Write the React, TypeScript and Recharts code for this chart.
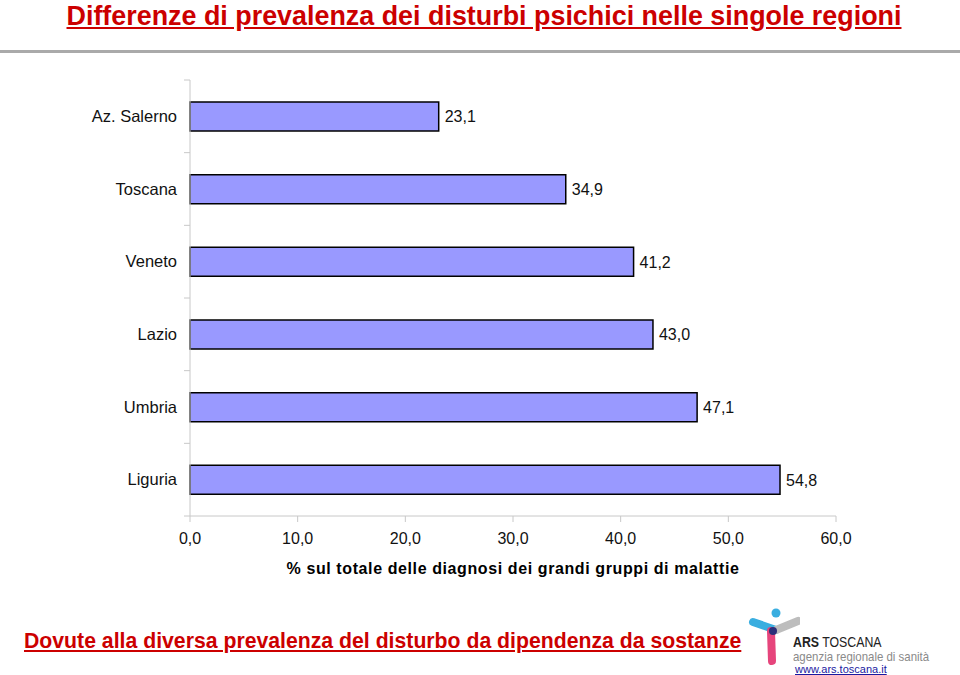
import React from "react";
import { BarChart, Bar, XAxis, YAxis, LabelList } from "recharts";

const categories = ["Az. Salerno", "Toscana", "Veneto", "Lazio", "Umbria", "Liguria"];
const values = [23.1, 34.9, 41.2, 43.0, 47.1, 54.8];
const xTicks = [0, 10, 20, 30, 40, 50, 60];

const title = "Differenze di prevalenza dei disturbi psichici nelle singole regioni";
const xTitle = "% sul totale delle diagnosi dei grandi gruppi di malattie";
const footer = "Dovute alla diversa prevalenza del disturbo da dipendenza da sostanze";

const data = categories.map((name, i) => ({ name, value: values[i] }));

const fmt = (v: any) => Number(v).toFixed(1).replace(".", ",");

const AXIS = "#c8c8c8";
const FONT = "'Liberation Sans', Arial, sans-serif";

const YTick = (props: any) => {
  const { x, y, payload, index, visibleTicksCount } = props;
  const off = payload.offset || 0;
  const ax = x + 8;
  return (
    <g>
      <line x1={ax - 6} x2={ax} y1={y - off} y2={y - off} stroke={AXIS} />
      {index === visibleTicksCount - 1 && (
        <line x1={ax - 6} x2={ax} y1={y + off} y2={y + off} stroke={AXIS} />
      )}
      <text x={x - 5} y={y} dy="0.35em" textAnchor="end" fontSize={16.5} fill="#111" fontFamily={FONT}>
        {payload.value}
      </text>
    </g>
  );
};

export default function App() {
  return (
    <div style={{ position: "absolute", left: 0, top: 0, width: 960, height: 675, background: "#fff", overflow: "hidden" }}>
      <div
        style={{
          position: "absolute",
          left: 0,
          width: 968,
          top: 0,
          textAlign: "center",
          fontFamily: FONT,
          fontWeight: "bold",
          fontSize: 28,
          lineHeight: "32px",
          color: "#cc0000",
          textDecoration: "underline",
          whiteSpace: "nowrap",
          transform: "scaleX(0.96)",
        }}
      >
        {title}
      </div>
      <div style={{ position: "absolute", left: 0, top: 50, width: 960, height: 3, background: "#aaaaaa" }} />
      <div style={{ position: "absolute", left: 0, top: 0 }}>
        <BarChart
          width={960}
          height={675}
          data={data}
          layout="vertical"
          margin={{ top: 80, right: 124, bottom: 119, left: 0 }}
        >
          <XAxis
            type="number"
            domain={[0, 60]}
            ticks={xTicks}
            tickFormatter={fmt}
            height={40}
            stroke={AXIS}
            tickSize={6}
            tickMargin={11}
            tick={{ fill: "#111", fontSize: 16, fontFamily: FONT }}
            interval={0}
          />
          <YAxis
            type="category"
            dataKey="name"
            width={190}
            stroke={AXIS}
            tickLine={false}
            tick={<YTick />}
            interval={0}
          />
          <Bar dataKey="value" fill="#9999ff" stroke="#000" strokeWidth={1.5} barSize={29} isAnimationActive={false}>
            <LabelList
              dataKey="value"
              position="right"
              offset={6}
              formatter={fmt}
              style={{ fill: "#111", fontSize: 16, fontFamily: FONT }}
            />
          </Bar>
        </BarChart>
      </div>
      <div
        style={{
          position: "absolute",
          left: 283,
          width: 460,
          top: 560,
          textAlign: "center",
          fontFamily: FONT,
          fontWeight: "bold",
          fontSize: 16,
          letterSpacing: 0.6,
          color: "#000",
          whiteSpace: "nowrap",
        }}
      >
        {xTitle}
      </div>
      <div
        style={{
          position: "absolute",
          left: 24,
          top: 628,
          fontFamily: FONT,
          fontWeight: "bold",
          fontSize: 22,
          color: "#cc0000",
          textDecoration: "underline",
          whiteSpace: "nowrap",
          transformOrigin: "left center",
          transform: "scaleX(0.965)",
        }}
      >
        {footer}
      </div>
      <svg style={{ position: "absolute", left: 740, top: 603 }} width={60} height={68}>
        <line x1={13} y1={19} x2={36} y2={27} stroke="#3aaee0" strokeWidth={8} strokeLinecap="round" />
        <line x1={58} y1={18} x2={36} y2={27} stroke="#bdbdbd" strokeWidth={8} strokeLinecap="round" />
        <circle cx={36} cy={10} r={4.5} fill="#3aaee0" />
        <line x1={31} y1={28} x2={32} y2={58} stroke="#e6457c" strokeWidth={8} strokeLinecap="round" />
        <circle cx={33} cy={28} r={4} fill="#2a2f7a" />
      </svg>
      <div style={{ position: "absolute", left: 793, top: 635, fontFamily: FONT, fontSize: 14, lineHeight: "15px", color: "#222", whiteSpace: "nowrap", transformOrigin: "left center", transform: "scaleX(0.88)" }}>
        <b>ARS</b> TOSCANA
      </div>
      <div style={{ position: "absolute", left: 793, top: 650, fontFamily: FONT, fontSize: 13, lineHeight: "13px", color: "#8a8a8a", whiteSpace: "nowrap", transformOrigin: "left center", transform: "scaleX(0.88)" }}>
        agenzia regionale di sanità
      </div>
      <div style={{ position: "absolute", left: 795, top: 663, fontFamily: FONT, fontSize: 11, lineHeight: "12px", color: "#1a1aa0", textDecoration: "underline", whiteSpace: "nowrap" }}>
        www.ars.toscana.it
      </div>
    </div>
  );
}
